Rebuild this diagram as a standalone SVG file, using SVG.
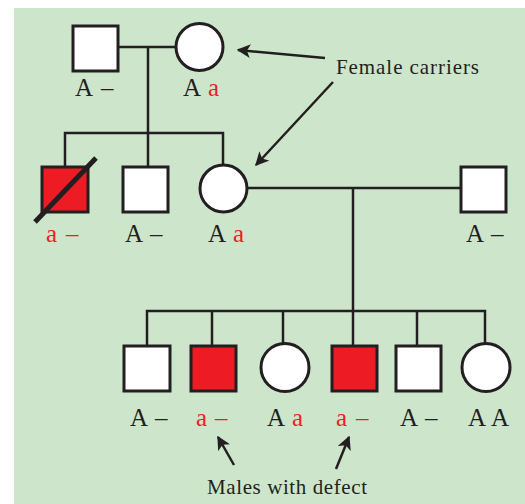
<svg xmlns="http://www.w3.org/2000/svg" width="525" height="504" viewBox="0 0 525 504">
<defs>
<style>
.bg{fill:#cde6cb}
.n{stroke:#231f20;stroke-width:3;fill:#ffffff}
.aff{fill:#ed1c24}
.ln{stroke:#231f20;stroke-width:2.5;fill:none}
.ar{stroke:#231f20;stroke-width:2.5;fill:none;marker-end:url(#ah)}
.lb{font-family:"Liberation Serif",serif;font-size:25px;fill:#231f20}
.r{fill:#ed1c24}
.cap{font-family:"Liberation Serif",serif;font-size:21px;fill:#231f20}
</style>
<marker id="ah" viewBox="0 0 10 10" refX="9" refY="5" markerWidth="5.5" markerHeight="5.5" orient="auto" markerUnits="strokeWidth">
<path d="M0,0 L10,5 L0,10 L2.5,5 Z" fill="#231f20"/>
</marker>
</defs>
<rect class="bg" x="14" y="8" width="511" height="496"/>
<g id="connectors">
<line class="ln" x1="118" y1="47" x2="176" y2="47"/>
<line class="ln" x1="148" y1="47" x2="148" y2="133"/>
<polyline class="ln" points="65,167 65,133 223,133 223,165"/>
<line class="ln" x1="148" y1="133" x2="148" y2="167"/>
<line class="ln" x1="247" y1="188" x2="461" y2="188"/>
<line class="ln" x1="353" y1="188" x2="353" y2="345"/>
<polyline class="ln" points="147,346 147,311 485,311 485,343"/>
<line class="ln" x1="212" y1="311" x2="212" y2="346"/>
<line class="ln" x1="283" y1="311" x2="283" y2="343"/>
<line class="ln" x1="417" y1="311" x2="417" y2="346"/>
<line class="ar" x1="325" y1="58" x2="238" y2="50"/>
<line class="ar" x1="333" y1="82" x2="256" y2="165"/>
<line class="ar" x1="234" y1="465" x2="218" y2="437"/>
<line class="ar" x1="336" y1="469" x2="349" y2="437"/>
</g>
<g id="gen1-father">
<rect class="n" x="73" y="26" width="45" height="45"/>
<text class="lb" y="96"><tspan x="75">A</tspan><tspan x="101">–</tspan></text>
</g>
<g id="gen1-mother">
<circle class="n" cx="199.5" cy="47" r="23.5"/>
<text class="lb" y="96"><tspan x="183">A</tspan><tspan class="r" x="208">a</tspan></text>
</g>
<g id="gen2-son-affected">
<rect class="n aff" x="42" y="167" width="46" height="45"/>
<line x1="35" y1="222" x2="96" y2="158" stroke="#231f20" stroke-width="5"/>
<text class="lb r" y="242"><tspan x="46">a</tspan><tspan x="66">–</tspan></text>
</g>
<g id="gen2-son">
<rect class="n" x="123" y="167" width="45" height="45"/>
<text class="lb" y="242"><tspan x="125">A</tspan><tspan x="150">–</tspan></text>
</g>
<g id="gen2-daughter">
<circle class="n" cx="223.5" cy="188.5" r="23.5"/>
<text class="lb" y="242"><tspan x="208">A</tspan><tspan class="r" x="233">a</tspan></text>
</g>
<g id="gen2-husband">
<rect class="n" x="461" y="167" width="45" height="45"/>
<text class="lb" y="242"><tspan x="466">A</tspan><tspan x="491">–</tspan></text>
</g>
<g id="gen3-1">
<rect class="n" x="124" y="346" width="46" height="45"/>
<text class="lb" y="426"><tspan x="130">A</tspan><tspan x="155">–</tspan></text>
</g>
<g id="gen3-2">
<rect class="n aff" x="191" y="346" width="45" height="45"/>
<text class="lb r" y="426"><tspan x="196">a</tspan><tspan x="215">–</tspan></text>
</g>
<g id="gen3-3">
<circle class="n" cx="285" cy="367.5" r="24"/>
<text class="lb" y="426"><tspan x="267">A</tspan><tspan class="r" x="292">a</tspan></text>
</g>
<g id="gen3-4">
<rect class="n aff" x="332" y="346" width="45" height="45"/>
<text class="lb r" y="426"><tspan x="336">a</tspan><tspan x="356">–</tspan></text>
</g>
<g id="gen3-5">
<rect class="n" x="396" y="346" width="45" height="45"/>
<text class="lb" y="426"><tspan x="400">A</tspan><tspan x="425">–</tspan></text>
</g>
<g id="gen3-6">
<circle class="n" cx="486" cy="367.5" r="24"/>
<text class="lb" y="426"><tspan x="468">A</tspan><tspan x="491">A</tspan></text>
</g>
<g id="labels">
<text class="cap" x="336" y="74" textLength="143" lengthAdjust="spacing">Female carriers</text>
<text class="cap" x="207" y="494" textLength="160" lengthAdjust="spacing">Males with defect</text>
</g>
</svg>
